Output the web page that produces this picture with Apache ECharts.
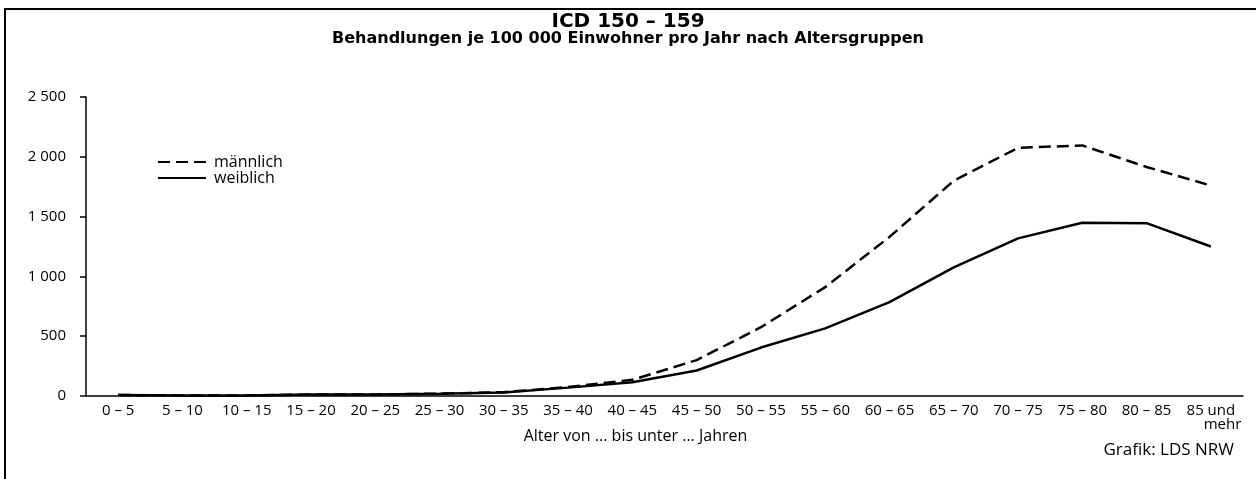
<!DOCTYPE html>
<html>
<head>
<meta charset="utf-8">
<title>ICD 150 - 159</title>
<script src="https://cdn.jsdelivr.net/npm/echarts@6/dist/echarts.min.js"></script>
<style>
  html, body { margin: 0; padding: 0; background: #fff; }
  #chart { width: 1256px; height: 479px; }
</style>
</head>
<body>
<div id="chart"></div>
<script>
// Altersgruppen
var categories = ['0 – 5', '5 – 10', '10 – 15', '15 – 20', '20 – 25', '25 – 30',
  '30 – 35', '35 – 40', '40 – 45', '45 – 50', '50 – 55', '55 – 60',
  '60 – 65', '65 – 70', '70 – 75', '75 – 80', '80 – 85', '85 und\n      mehr'];
// Behandlungen je 100 000 Einwohner
var maennlich = [8, 5, 5, 12, 12, 20, 32, 75, 135, 300, 575, 910, 1330, 1800, 2075, 2095, 1915, 1760];
var weiblich  = [8, 5, 5, 12, 12, 18, 30, 70, 115, 213, 405, 565, 785, 1075, 1318, 1448, 1445, 1250];
var yTicks = [0, 500, 1000, 1500, 2000, 2500];

var font = '"Open Sans", "DejaVu Sans", sans-serif';
var boldFont = '"DejaVu Sans", sans-serif';
var chart = echarts.init(document.getElementById('chart'));

var option = {
  backgroundColor: '#fff',
  animation: false,
  textStyle: { fontFamily: font, color: '#000' },
  title: {
    text: 'ICD 150 – 159',
    subtext: 'Behandlungen je 100 000 Einwohner pro Jahr nach Altersgruppen',
    left: 'center',
    top: 7,
    itemGap: -1,
    textStyle: { fontFamily: boldFont, fontSize: 20, fontWeight: 'bold', color: '#000' },
    subtextStyle: { fontFamily: boldFont, fontSize: 16, fontWeight: 'bold', color: '#000' }
  },
  legend: {
    orient: 'vertical',
    left: 152,
    top: 149,
    itemWidth: 48,
    itemHeight: 10,
    itemGap: 0,
    itemStyle: { opacity: 0 },
    textStyle: { fontFamily: font, fontSize: 16, lineHeight: 16, color: '#000', padding: [0, 0, 0, 3] },
    data: ['männlich', 'weiblich']
  },
  grid: { left: 86, right: 13, top: 97, bottom: 83 },
  xAxis: {
    type: 'category',
    data: categories,
    boundaryGap: true,
    name: 'Alter von ... bis unter ... Jahren',
    nameLocation: 'middle',
    nameGap: 32,
    nameMoveOverlap: false,
    nameTextStyle: { fontFamily: font, fontSize: 16, color: '#000', padding: [0, 58, 0, 0] },
    axisLine: { lineStyle: { color: '#000', width: 1.5 } },
    axisTick: { length: 6, lineStyle: { color: '#000', width: 1.5 } },
    axisLabel: { fontFamily: font, fontSize: 15, color: '#000', margin: 8, interval: 0, lineHeight: 14 }
  },
  yAxis: {
    type: 'value',
    min: 0,
    max: 2500,
    interval: 500,
    axisLine: { show: true, lineStyle: { color: '#000', width: 1.5 } },
    axisTick: { show: true, length: 6, lineStyle: { color: '#000', width: 1.5 } },
    splitLine: { show: false },
    axisLabel: {
      fontFamily: font, fontSize: 15, color: '#000', margin: 20,
      formatter: function (v) {
        return yTicks.indexOf(v) >= 0 ? String(v).replace(/\B(?=(\d{3})+(?!\d))/g, ' ') : '';
      }
    }
  },
  series: [
    {
      name: 'männlich',
      type: 'line',
      data: maennlich,
      symbol: 'none',
      lineStyle: { color: '#000', width: 2.5, type: [12, 6] },
      itemStyle: { color: '#000' }
    },
    {
      name: 'weiblich',
      type: 'line',
      data: weiblich,
      symbol: 'none',
      lineStyle: { color: '#000', width: 2.5, type: 'solid' },
      itemStyle: { color: '#000' }
    }
  ],
  graphic: [
    // Rahmen oben und links
    { type: 'line', shape: { x1: 4, y1: 9, x2: 1256, y2: 9 }, style: { stroke: '#000', lineWidth: 2 } },
    { type: 'line', shape: { x1: 5, y1: 9, x2: 5, y2: 479 }, style: { stroke: '#000', lineWidth: 2 } },
    {
      type: 'text', right: 22, top: 442,
      style: { text: 'Grafik: LDS NRW', fontFamily: font, fontSize: 17, fill: '#000' }
    }
  ]
};

chart.setOption(option);
</script>
</body>
</html>
